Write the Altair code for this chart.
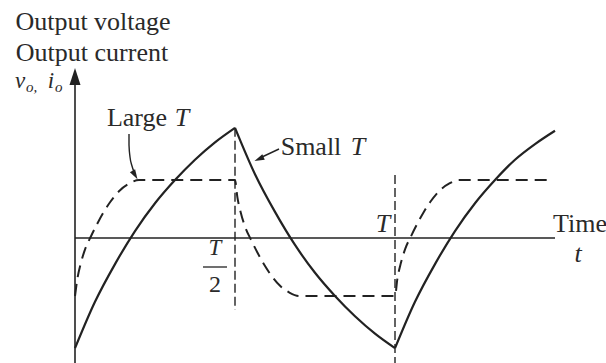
import altair as alt
import pandas as pd

# ---- series (time in units of T/2, amplitude in units of the voltage step) ----
# output current, solid: three exponential half-cycles
cur_t = [0.0, 0.125, 0.25, 0.375, 0.5, 0.625, 0.75, 0.875, 1.0,
         1.0, 1.125, 1.25, 1.375, 1.5, 1.625, 1.75, 1.875, 2.0,
         2.0, 2.125, 2.25, 2.375, 2.5, 2.625, 2.75, 2.875, 3.0]
cur_i = [-1.9, -1.1, -0.45, 0.12, 0.6, 1.0, 1.35, 1.65, 1.9,
         1.9, 1.1, 0.45, -0.12, -0.6, -1.0, -1.35, -1.65, -1.9,
         -1.9, -1.1, -0.45, 0.12, 0.6, 1.0, 1.35, 1.62, 1.85]
cur_seg = [1] * 9 + [2] * 9 + [3] * 9

# output voltage / current with large T, dashed
volt_t = [0.0, 0.015, 0.035, 0.065, 0.1, 0.14, 0.18, 0.22, 0.28, 0.34, 0.4,
          1.0, 1.015, 1.035, 1.065, 1.1, 1.14, 1.18, 1.22, 1.28, 1.34, 1.4,
          2.0, 2.015, 2.035, 2.065, 2.1, 2.14, 2.18, 2.22, 2.28, 2.34, 2.4,
          2.97]
volt_v = [-1.0, -0.7, -0.45, -0.18, 0.03, 0.25, 0.45, 0.62, 0.82, 0.94, 1.0,
          1.0, 0.7, 0.45, 0.18, -0.03, -0.25, -0.45, -0.62, -0.82, -0.94, -1.0,
          -1.0, -0.7, -0.45, -0.18, 0.03, 0.25, 0.45, 0.62, 0.82, 0.94, 1.0,
          1.0]

current = pd.DataFrame({"t": cur_t, "i": cur_i, "seg": cur_seg})
voltage = pd.DataFrame({"t": volt_t, "v": volt_v})

# ---- layout: page pixels per unit ----
W, H = 606, 363
X0, Y0 = 75, 238          # pixel position of the origin
SX, SY = 160, 58          # pixels per unit of t and of amplitude


def tx(px):
    return (px - X0) / SX


def vy(py):
    return (Y0 - py) / SY


XS = alt.Scale(domain=[tx(0), tx(W)], nice=False, zero=False)
YS = alt.Scale(domain=[vy(H), vy(0)], nice=False, zero=False)
INK = "#222222"
TEXT = "#2a2a2a"
SERIF = "Liberation Serif"


def X(field="t"):
    return alt.X(f"{field}:Q", scale=XS, axis=None)


def Y(field):
    return alt.Y(f"{field}:Q", scale=YS, axis=None)


one = pd.DataFrame({"k": [0]})


def label(text, x, y, size=26, italic=False, align="center"):
    return alt.Chart(one).mark_text(
        text=text, font=SERIF, fontSize=size,
        fontStyle="italic" if italic else "normal",
        align=align, baseline="alphabetic", color=TEXT,
    ).encode(x=alt.value(x), y=alt.value(y))


# axes
y_axis = alt.Chart(pd.DataFrame({"t": [0.0, 0.0], "v": [vy(H), vy(76.5)]})).mark_line(
    color=INK, strokeWidth=1.6).encode(x=X(), y=Y("v"))
x_axis = alt.Chart(pd.DataFrame({"t": [0.0, 3.0], "v": [0.0, 0.0]})).mark_line(
    color=INK, strokeWidth=1.6).encode(x=X(), y=Y("v"))
y_head = alt.Chart(pd.DataFrame({"t": [0.0], "v": [vy(76.5)]})).mark_point(
    shape="M0,-1L0.65,1L-0.65,1Z", size=289, filled=True, opacity=1,
    color=INK, strokeWidth=0).encode(x=X(), y=Y("v"))

# guides at T/2 and T
guides = alt.Chart(pd.DataFrame({
    "t": [1.0, 2.0], "top": [1.9, vy(175)], "bot": [vy(310), vy(H)]
})).mark_rule(color=INK, strokeWidth=1.4, strokeDash=[9, 4]).encode(
    x=X(), y=Y("top"), y2="bot")

cur_line = alt.Chart(current).mark_line(
    color=INK, strokeWidth=2.2, interpolate="monotone").encode(
    x=X(), y=Y("i"), detail="seg:N")
volt_line = alt.Chart(voltage).mark_line(
    color=INK, strokeWidth=2.0, strokeDash=[12, 7], interpolate="monotone").encode(
    x=X(), y=Y("v"))

# callout arrows
large_px = [(129, 134), (129, 145), (130, 157), (132, 166), (134, 172)]
large_arrow = alt.Chart(pd.DataFrame({
    "t": [tx(p[0]) for p in large_px], "v": [vy(p[1]) for p in large_px],
    "o": list(range(len(large_px)))})).mark_line(
    color=INK, strokeWidth=1.4, interpolate="monotone").encode(
    x=X(), y=Y("v"), order="o:O")
large_head = alt.Chart(pd.DataFrame({"t": [tx(135)], "v": [vy(175)]})).mark_point(
    shape="M0,-1L0.6,1L-0.6,1Z", size=100, filled=True, opacity=1, angle=150,
    color=INK, strokeWidth=0).encode(x=X(), y=Y("v"))
small_arrow = alt.Chart(pd.DataFrame({
    "t": [tx(279)], "t2": [tx(262)], "v": [vy(149)], "v2": [vy(157)]})).mark_rule(
    color=INK, strokeWidth=1.4).encode(x=X(), x2="t2", y=Y("v"), y2="v2")
small_head = alt.Chart(pd.DataFrame({"t": [tx(259)], "v": [vy(159)]})).mark_point(
    shape="M0,-1L0.6,1L-0.6,1Z", size=100, filled=True, opacity=1, angle=246,
    color=INK, strokeWidth=0).encode(x=X(), y=Y("v"))

frac_bar = alt.Chart(one).mark_rule(color=INK, strokeWidth=1.3).encode(
    x=alt.value(203), x2=alt.value(227), y=alt.value(267))

texts = [
    label("Output voltage", 93, 30),
    label("Output current", 92, 61),
    label("v", 20, 88, size=23, italic=True),
    label("o,", 26, 92, size=15, italic=True, align="left"),
    label("i", 51, 88, size=23, italic=True),
    label("o", 55, 92, size=15, italic=True, align="left"),
    label("Large", 137, 126),
    label("T", 182, 126, italic=True),
    label("Small", 311, 155),
    label("T", 358, 155, italic=True),
    label("T", 215, 255, size=23, italic=True),
    label("2", 215, 292, size=24),
    label("T", 383, 232, italic=True),
    label("Time", 553, 232, align="left"),
    label("t", 578, 262, italic=True),
]

chart = alt.layer(
    guides, x_axis, y_axis, y_head, volt_line, cur_line,
    large_arrow, large_head, small_arrow, small_head, frac_bar, *texts
).properties(
    width=W, height=H, autosize="none", padding=0, background="white"
).configure_view(stroke=None)

chart.save("out.html", embed_options={"renderer": "svg", "actions": False})
